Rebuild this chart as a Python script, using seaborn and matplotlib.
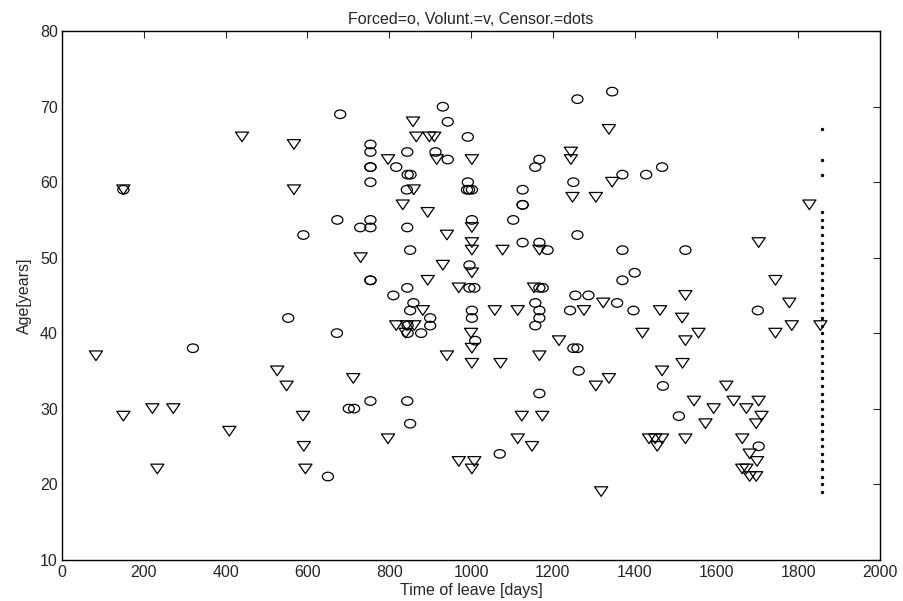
import matplotlib
matplotlib.use("Agg")
import matplotlib.pyplot as plt
import seaborn as sns
import pandas as pd
from matplotlib.path import Path
from matplotlib.transforms import Affine2D

# Forced leavers (circles): time of leave [days], age [years]
forced_days = [150, 590, 553, 320, 650, 931, 680, 943, 992, 754, 754, 844, 913, 943,
               754, 754, 817, 845, 852, 754, 992, 843, 990, 995, 1002, 673, 754, 754,
               729, 844, 1002, 1103, 851, 996, 754, 754, 844, 996, 1008, 810, 859, 851,
               1002, 1002, 900, 900, 845, 845, 878, 672, 1010, 754, 844, 701, 714, 851,
               1070, 1345, 1260, 1167, 1157, 1250, 1370, 1428, 1467, 1126, 1126, 1126,
               1260, 1126, 1167, 1187, 1370, 1524, 1400, 1370, 1167, 1175, 1255, 1287,
               1157, 1167, 1167, 1157, 1242, 1357, 1397, 1250, 1260, 1263, 1469, 1167,
               1508, 1701, 1703]
forced_age = [59, 53, 42, 38, 21, 70, 69, 68, 66, 65, 64, 64, 64, 63,
              62, 62, 62, 61, 61, 60, 60, 59, 59, 59, 59, 55, 55, 54,
              54, 54, 55, 55, 51, 49, 47, 47, 46, 46, 46, 45, 44, 43,
              43, 42, 42, 41, 41, 40, 40, 40, 39, 31, 31, 30, 30, 28,
              24, 72, 71, 63, 62, 60, 61, 61, 62, 59, 57, 57,
              53, 52, 52, 51, 51, 51, 48, 47, 46, 46, 45, 45,
              44, 43, 42, 41, 43, 44, 43, 38, 38, 35, 33, 32,
              29, 43, 25]

# Voluntary leavers (triangles)
volunt_days = [440, 567, 150, 567, 83, 526, 549, 150, 221, 272, 589, 409, 591, 233, 595,
               858, 866, 898, 910, 797, 916, 1002, 860, 833, 894, 1002, 941, 1002, 1002,
               1077, 730, 931, 1002, 894, 970, 882, 1058, 1114, 817, 843, 861, 840, 1000,
               1002, 941, 1002, 1072, 712, 797, 1114, 970, 1008, 1002,
               1337, 1244, 1244, 1345, 1248, 1305, 1167, 1154, 1524, 1276, 1323, 1462,
               1516, 1419, 1556, 1524, 1215, 1167, 1517, 1467, 1337, 1305, 1545, 1124,
               1174, 1149, 1435, 1450, 1467, 1455, 1524, 1318,
               1827, 1703, 1744, 1778, 1784, 1854, 1744, 1624, 1642, 1703, 1593, 1673,
               1710, 1573, 1697, 1663, 1681, 1699, 1663, 1673, 1681, 1697]
volunt_age = [66, 65, 59, 59, 37, 35, 33, 29, 30, 30, 29, 27, 25, 22, 22,
              68, 66, 66, 66, 63, 63, 63, 59, 57, 56, 54, 53, 52, 51,
              51, 50, 49, 48, 47, 46, 43, 43, 43, 41, 41, 41, 40, 40,
              38, 37, 36, 36, 34, 26, 26, 23, 23, 22,
              67, 64, 63, 60, 58, 58, 51, 46, 45, 43, 44, 43,
              42, 40, 40, 39, 39, 37, 36, 35, 34, 33, 31, 29,
              29, 25, 26, 26, 26, 25, 26, 19,
              57, 52, 47, 44, 41, 41, 40, 33, 31, 31, 30, 30,
              29, 28, 28, 26, 24, 23, 22, 22, 21, 21]

# Censored (dots), all at the end of the study
censor_age = list(range(19, 57)) + [61, 63, 67]
censor_days = [1857] * len(censor_age)

forced = pd.DataFrame({"days": forced_days, "age": forced_age})
volunt = pd.DataFrame({"days": volunt_days, "age": volunt_age})
censor = pd.DataFrame({"days": censor_days, "age": censor_age})

sns.set_style("white")
plt.rcParams["font.family"] = ["Liberation Sans", "DejaVu Sans"]
plt.rcParams["xtick.direction"] = "in"
plt.rcParams["ytick.direction"] = "in"

# slightly squashed markers, as in the original picture
oval = Affine2D().scale(1.0, 0.77).transform_path(Path.unit_circle())
tri = Path([(-1, 0.73), (1, 0.73), (0, -0.73), (-1, 0.73)],
           [Path.MOVETO, Path.LINETO, Path.LINETO, Path.CLOSEPOLY])

fig = plt.figure(figsize=(9.04, 6.01), dpi=100)
ax = fig.add_axes([0.0686, 0.069, 0.905, 0.879])

sns.scatterplot(data=forced, x="days", y="age", marker=oval, s=64,
                facecolor="none", edgecolor="black", linewidth=0.9, ax=ax)
sns.scatterplot(data=volunt, x="days", y="age", marker=tri, s=90,
                facecolor="none", edgecolor="black", linewidth=0.9, ax=ax)
sns.scatterplot(data=censor, x="days", y="age", marker="o", s=6,
                color="black", edgecolor="black", linewidth=0, ax=ax)

ax.set_xlim(0, 2000)
ax.set_ylim(10, 80)
ax.set_xticks(range(0, 2001, 200))
ax.set_yticks(range(10, 81, 10))
ax.tick_params(top=True, right=True, length=5, width=0.8, labelsize=11.5)
ax.tick_params(axis="x", pad=4)
ax.tick_params(axis="y", pad=3)
for sp in ax.spines.values():
    sp.set_linewidth(1.0)
    sp.set_color("black")

ax.set_title("Forced=o, Volunt.=v, Censor.=dots", fontsize=11.5, pad=5)
ax.set_xlabel("Time of leave [days]", fontsize=11.5, labelpad=2)
ax.set_ylabel("Age[years]", fontsize=11.5, labelpad=6)

fig.savefig("out.png", dpi=100)
